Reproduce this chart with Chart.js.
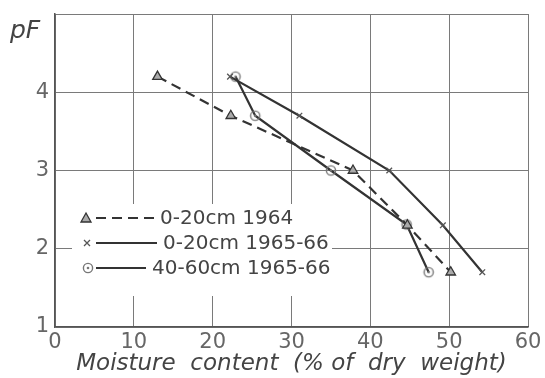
<!DOCTYPE html>
<html>
<head>
<meta charset="utf-8">
<script src="https://cdn.jsdelivr.net/npm/chart.js@4.4.0/dist/chart.umd.min.js"></script>
<style>
  html, body { margin: 0; padding: 0; background: #fff; }
</style>
</head>
<body>
<canvas id="pfChart" width="545" height="378"></canvas>
<script>
// values: moisture content (%) vs pF
const labels = ['0-20cm 1964', '0-20cm 1965-66', '40-60cm 1965-66'];
const pf = [4.2, 3.7, 3.0, 2.3, 1.7];
const moist1964 = [13.0, 22.3, 37.8, 44.7, 50.2];
const moist6566 = [22.2, 31.0, 42.4, 49.2, 54.2];
const moistDeep = [22.9, 25.4, 35.0, 44.6, 47.4];
const pfDeep = [4.2, 3.7, 3.0, 2.31, 1.7];
const xTicks = [0, 10, 20, 30, 40, 50, 60];
const yTicks = [1, 2, 3, 4];

const ink = '#333';

// circle with a dot in the middle
const dotCircle = document.createElement('canvas');
dotCircle.width = 14; dotCircle.height = 14;
(() => {
    const c = dotCircle.getContext('2d');
    c.strokeStyle = '#777';
    c.lineWidth = 1.4;
    c.beginPath(); c.arc(7, 7, 4.6, 0, Math.PI * 2); c.stroke();
    c.fillStyle = '#777';
    c.beginPath(); c.arc(7, 7, 1.3, 0, Math.PI * 2); c.fill();
})();

const toPoints = (xs, ys) => xs.map((x, i) => ({ x: x, y: ys[i] }));

const insideLegend = {
    id: 'insideLegend',
    afterDraw(chart) {
        const c = chart.ctx;
        c.save();
        c.fillStyle = '#fff';
        c.fillRect(72, 204, 260, 92);
        const rows = [218, 243, 268];
        const textX = [160, 163, 152];
        chart.data.datasets.forEach((ds, i) => {
            const y = rows[i];
            // marker
            if (ds.pointStyle === 'triangle') {
                c.beginPath();
                c.moveTo(86, y - 5); c.lineTo(91, y + 4); c.lineTo(81, y + 4); c.closePath();
                c.fillStyle = '#aaa'; c.fill();
                c.strokeStyle = ink; c.lineWidth = 1.3; c.stroke();
            } else if (ds.pointStyle === 'crossRot') {
                c.strokeStyle = '#555'; c.lineWidth = 1.3;
                c.beginPath();
                c.moveTo(84, y - 3); c.lineTo(90, y + 3);
                c.moveTo(90, y - 3); c.lineTo(84, y + 3);
                c.stroke();
            } else {
                c.drawImage(dotCircle, 81, y - 7);
            }
            // line sample
            c.strokeStyle = ink; c.lineWidth = 2.2;
            c.setLineDash(ds.borderDash || []);
            c.beginPath(); c.moveTo(96, y); c.lineTo(textX[i] - 6, y); c.stroke();
            c.setLineDash([]);
            c.fillStyle = '#444';
            c.font = '20px "DejaVu Sans"';
            c.textBaseline = 'middle';
            c.fillText(ds.label, textX[i], y + 1);
        });
        // pF label at top of y axis
        c.fillStyle = '#444';
        c.font = 'italic 25px "DejaVu Sans"';
        c.textBaseline = 'alphabetic';
        c.fillText('pF', 10, 38);
        c.restore();
    }
};

new Chart(document.getElementById('pfChart').getContext('2d'), {
    type: 'scatter',
    data: {
        datasets: [{
            label: labels[0],
            data: toPoints(moist1964, pf),
            showLine: true,
            borderColor: ink,
            borderWidth: 2.2,
            borderDash: [10, 6],
            pointStyle: 'triangle',
            pointRadius: 5.5,
            pointBackgroundColor: '#aaa',
            pointBorderColor: ink,
            pointBorderWidth: 1.3,
            order: 0
        }, {
            label: labels[1],
            data: toPoints(moist6566, pf),
            showLine: true,
            borderColor: ink,
            borderWidth: 2.2,
            pointStyle: 'crossRot',
            pointRadius: 4,
            pointBorderColor: '#555',
            pointBorderWidth: 1.3,
            order: 1
        }, {
            label: labels[2],
            data: toPoints(moistDeep, pfDeep),
            showLine: true,
            borderColor: ink,
            borderWidth: 2.2,
            pointStyle: dotCircle,
            order: 2
        }]
    },
    options: {
        responsive: false,
        animation: false,
        layout: { padding: { top: 14, right: 17, left: 0, bottom: 0 } },
        plugins: { legend: { display: false }, tooltip: { enabled: false } },
        scales: {
            x: {
                type: 'linear',
                min: 0, max: 60,
                afterBuildTicks: (s) => { s.ticks = xTicks.map(v => ({ value: v })); },
                grid: { color: '#7a7a7a', lineWidth: 1, drawTicks: false },
                border: { color: '#555', width: 1.5 },
                ticks: { color: '#666', font: { family: 'DejaVu Sans', size: 21 }, padding: 3 },
                title: {
                    display: true,
                    text: 'Moisture  content  (% of  dry  weight)',
                    color: '#444',
                    font: { family: 'DejaVu Sans', size: 23, style: 'italic' },
                    padding: { top: -4, bottom: 0 }
                },
                afterFit: (s) => { s.height = 51; s.paddingLeft = 0; s.paddingRight = 0; }
            },
            y: {
                type: 'linear',
                min: 1, max: 5,
                afterBuildTicks: (s) => { s.ticks = yTicks.concat([5]).map(v => ({ value: v })); },
                grid: { color: '#7a7a7a', lineWidth: 1, drawTicks: false },
                border: { color: '#555', width: 1.5 },
                ticks: {
                    color: '#666',
                    font: { family: 'DejaVu Sans', size: 21 },
                    padding: 6,
                    callback: (v) => yTicks.includes(v) ? String(v) : ''
                },
                afterFit: (s) => { s.width = 55; s.paddingTop = 0; s.paddingBottom = 0; }
            }
        }
    },
    plugins: [insideLegend]
});
</script>
</body>
</html>
